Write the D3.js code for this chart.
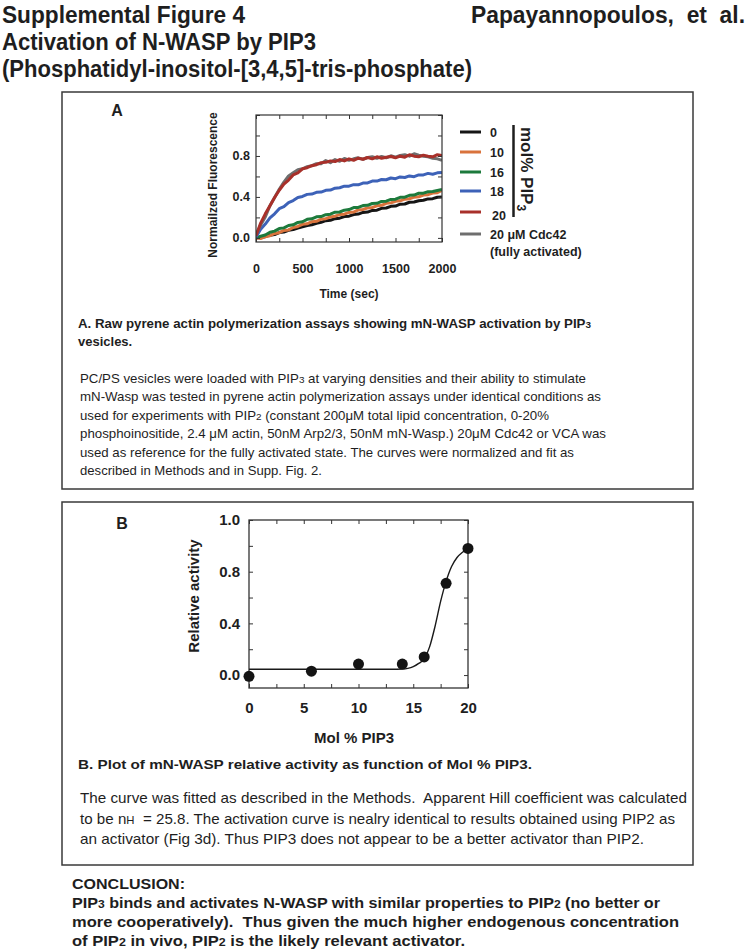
<!DOCTYPE html>
<html><head><meta charset="utf-8">
<script src="https://cdn.jsdelivr.net/npm/d3@7"></script>
<style>
body{margin:0;background:#fff}
svg{display:block}
text{font-family:"Liberation Sans",Arial,Helvetica,sans-serif;fill:#1e1e1e;white-space:pre}
</style>
</head><body>
<svg id="c" width="750" height="949"></svg>
<script>
// ---------- DATA ----------
// Panel A: pyrene actin polymerization traces (normalized fluorescence vs time)
const times = [0,50,100,150,200,250,300,350,400,450,500,550,600,650,700,750,800,850,900,950,1000,
  1050,1100,1150,1200,1250,1300,1350,1400,1450,1500,1550,1600,1650,1700,1750,1800,1850,1900,1950,2000];
const seriesNames = ["0","10","16","18","20","20 \u03BCM Cdc42"];
const pip0  = [0.00,0.006,0.012,0.027,0.033,0.052,0.058,0.074,0.082,0.097,0.108,0.121,0.128,0.143,0.152,0.168,0.172,0.188,0.193,0.208,0.212,0.228,0.233,0.249,0.252,0.268,0.271,0.289,0.292,0.308,0.311,0.329,0.331,0.348,0.351,0.362,0.368,0.381,0.383,0.397,0.400];
const pip10 = [0.00,-0.006,0.012,0.021,0.043,0.051,0.073,0.078,0.102,0.112,0.133,0.138,0.158,0.162,0.183,0.188,0.204,0.212,0.228,0.232,0.249,0.252,0.273,0.277,0.293,0.297,0.313,0.318,0.338,0.342,0.358,0.362,0.378,0.382,0.398,0.402,0.418,0.422,0.438,0.442,0.465];
const pip16 = [0.00,0.016,0.028,0.055,0.066,0.091,0.098,0.121,0.128,0.151,0.158,0.181,0.186,0.206,0.208,0.227,0.232,0.251,0.253,0.271,0.277,0.296,0.298,0.316,0.318,0.336,0.338,0.356,0.359,0.376,0.378,0.396,0.398,0.416,0.418,0.436,0.437,0.451,0.453,0.463,0.472];
const pip18 = [0.01,0.085,0.135,0.195,0.235,0.285,0.305,0.345,0.365,0.395,0.405,0.425,0.428,0.445,0.447,0.465,0.467,0.485,0.490,0.505,0.505,0.520,0.518,0.535,0.537,0.555,0.555,0.570,0.568,0.585,0.578,0.595,0.590,0.605,0.598,0.615,0.615,0.630,0.622,0.635,0.638];
const pip20 = [0.02,0.145,0.235,0.315,0.395,0.465,0.525,0.565,0.615,0.635,0.675,0.685,0.705,0.715,0.735,0.738,0.752,0.745,0.765,0.752,0.772,0.758,0.778,0.768,0.785,0.772,0.792,0.778,0.788,0.795,0.782,0.798,0.788,0.812,0.798,0.792,0.808,0.798,0.792,0.812,0.805];
const cdc42 = [0.03,0.125,0.205,0.315,0.395,0.475,0.545,0.605,0.635,0.665,0.675,0.695,0.705,0.725,0.725,0.755,0.735,0.765,0.748,0.775,0.758,0.772,0.782,0.768,0.785,0.792,0.778,0.795,0.782,0.802,0.788,0.805,0.812,0.798,0.822,0.808,0.798,0.792,0.778,0.772,0.758];
const seriesColors = ["#151515","#d9733c","#1d7a3c","#3d62b8","#a8302a","#6e6e6e"];
const aYTicks = [0, 0.4, 0.8];
const aXTicks = [0, 500, 1000, 1500, 2000];

// Panel B: relative activity vs mol % PIP3
const molPct   = [0, 5.7, 10, 14, 16, 18, 20];
const activity = [-0.01, 0.03, 0.085, 0.085, 0.14, 0.71, 0.98];
const fitX = [0, 13, 14, 14.5, 15, 15.5, 16, 16.5, 17, 17.5, 18, 18.5, 19, 19.5, 20];
const fitY = [0.045, 0.045, 0.047, 0.052, 0.065, 0.09, 0.125, 0.22, 0.38, 0.57, 0.725, 0.84, 0.91, 0.95, 0.98];
const bYTickVals = [0, 0.4, 0.8, 1.2];
const bYTickLabels = ["0.0", "0.4", "0.8", "1.0"];
const bXTicks = [0, 5, 10, 15, 20];

// ---------- DRAWING ----------
const svg = d3.select("#c");

function rich(x, y, parts, o = {}) {
  const size = o.size || 13;
  const t = svg.append("text").attr("x", x).attr("y", y)
    .attr("font-size", size).attr("font-weight", o.bold ? "bold" : "normal");
  if (o.family) t.style("font-family", o.family);
  if (o.anchor) t.attr("text-anchor", o.anchor);
  if (o.len) t.attr("textLength", o.len).attr("lengthAdjust", "spacingAndGlyphs");
  (typeof parts === "string" ? [parts] : parts).forEach(p => {
    if (typeof p === "string") t.append("tspan").text(p);
    else t.append("tspan").text(p.t).attr("font-size", size * (p.k || 0.75));
  });
  return t;
}

// Titles
const narrow = '"Liberation Sans Narrow","Arial Narrow","Liberation Sans",Arial,sans-serif';
rich(2, 23, "Supplemental Figure 4", {size: 23, bold: true, family: narrow, len: 243});
rich(2, 50, "Activation of N-WASP by PIP3", {size: 23, bold: true, family: narrow, len: 314});
rich(2, 77, "(Phosphatidyl-inositol-[3,4,5]-tris-phosphate)", {size: 23, bold: true, family: narrow, len: 470});
rich(471, 23, "Papayannopoulos,  et  al.", {size: 23, bold: true, family: narrow, len: 274});

// Boxes
svg.append("rect").attr("x", 62).attr("y", 92).attr("width", 631).attr("height", 397)
  .attr("fill", "none").attr("stroke", "#3a3a3a").attr("stroke-width", 1.5);
svg.append("rect").attr("x", 62).attr("y", 502).attr("width", 631).attr("height", 363)
  .attr("fill", "none").attr("stroke", "#3a3a3a").attr("stroke-width", 1.5);

rich(117, 116, "A", {size: 16, bold: true, anchor: "middle"});
rich(122, 529, "B", {size: 16, bold: true, anchor: "middle"});

// ----- Panel A chart -----
const A = {l: 256, r: 442, t: 115, b: 242};
const xA = d3.scaleLinear().domain([0, 2000]).range([A.l, A.r]);
const yA = d3.scaleLinear().domain([-0.04, 1.2]).range([A.b, A.t]);
const gA = svg.append("g");
svg.append("clipPath").attr("id", "clipA").append("rect")
  .attr("x", A.l).attr("y", A.t).attr("width", A.r - A.l).attr("height", A.b - A.t);

const allSeries = [pip0, pip10, pip16, pip18, cdc42, pip20];
const orderColors = [seriesColors[0], seriesColors[1], seriesColors[2], seriesColors[3], seriesColors[5], seriesColors[4]];
const lineA = d3.line().x((d, i) => xA(times[i])).y(d => yA(d));
const linesG = gA.append("g").attr("clip-path", "url(#clipA)");
allSeries.forEach((s, k) => {
  linesG.append("path").datum(s).attr("d", lineA).attr("fill", "none")
    .attr("stroke", orderColors[k]).attr("stroke-width", 3).attr("stroke-linejoin", "round");
});

// axes (inward ticks on all sides)
const tickFmt = d3.format(".1f");
gA.append("g").attr("transform", `translate(${A.l},0)`)
  .call(d3.axisRight(yA).tickValues(d3.range(0, 1.21, 0.2)).tickSize(4).tickFormat(""));
gA.append("g").attr("transform", `translate(${A.r},0)`)
  .call(d3.axisLeft(yA).tickValues(d3.range(0, 1.21, 0.2)).tickSize(4).tickFormat(""));
gA.append("g").attr("transform", `translate(0,${A.b})`)
  .call(d3.axisTop(xA).tickValues(d3.range(0, 2001, 250)).tickSize(4).tickFormat(""));
gA.append("g").attr("transform", `translate(0,${A.t})`)
  .call(d3.axisBottom(xA).tickValues(d3.range(0, 2001, 250)).tickSize(4).tickFormat(""));
gA.selectAll(".domain").remove();
gA.selectAll(".tick line").attr("stroke", "#333").attr("stroke-width", 1);
gA.append("rect").attr("x", A.l).attr("y", A.t).attr("width", A.r - A.l).attr("height", A.b - A.t)
  .attr("fill", "none").attr("stroke", "#333").attr("stroke-width", 1.2);
// tick labels
gA.append("g").attr("transform", `translate(${A.l},0)`)
  .call(d3.axisLeft(yA).tickValues(aYTicks).tickSize(0).tickPadding(6).tickFormat(tickFmt))
  .call(g => g.select(".domain").remove())
  .selectAll("text").attr("font-size", 12.5).attr("font-weight", "bold").style("font-family", '"Liberation Sans",Arial,sans-serif').attr("fill", "#1e1e1e");
gA.append("g").attr("transform", `translate(0,${A.b})`)
  .call(d3.axisBottom(xA).tickValues(aXTicks).tickSize(0).tickPadding(22).tickFormat(d3.format("d")))
  .call(g => g.select(".domain").remove())
  .selectAll("text").attr("font-size", 12.5).attr("font-weight", "bold").style("font-family", '"Liberation Sans",Arial,sans-serif').attr("fill", "#1e1e1e");
rich(349, 298, "Time (sec)", {size: 12, bold: true, anchor: "middle"});
rich(0, 0, "Normailzed Fluorescence", {size: 12, bold: true, anchor: "middle"})
  .attr("transform", "translate(217,185) rotate(-90)");

// legend
const legY = [132, 152, 172, 191, 212, 234];
const legColors = seriesColors;
legY.forEach((y, i) => {
  svg.append("line").attr("x1", 460).attr("x2", 481).attr("y1", y).attr("y2", y)
    .attr("stroke", legColors[i]).attr("stroke-width", 3);
  rich(i === 4 ? 492 : 490, (i === 4 ? y + 3 : y) + 4.5, seriesNames[i], {size: 12.5, bold: true});
});
rich(490, 255.5, "(fully activated)", {size: 12.5, bold: true});
svg.append("line").attr("x1", 513.5).attr("x2", 513.5).attr("y1", 125).attr("y2", 217)
  .attr("stroke", "#1e1e1e").attr("stroke-width", 2.5);
{
  const t = svg.append("text").attr("font-size", 17).attr("font-weight", "bold")
    .attr("transform", "translate(521,127) rotate(90)");
  t.append("tspan").text("mol% PIP");
  t.append("tspan").text("3").attr("font-size", 12).attr("dy", 4);
}

// Captions A
rich(78, 328, ["A. Raw pyrene actin polymerization assays showing mN-WASP activation by PIP", {t: "3"}],
  {size: 13, bold: true, len: 513});
rich(78, 346, "vesicles.", {size: 13, bold: true});
const bodyA = [
  [["PC/PS vesicles were loaded with PIP", {t: "3"}, " at varying densities and their ability to stimulate"], 506],
  [["mN-Wasp was tested in pyrene actin polymerization assays under identical conditions as"], 521],
  [["used for experiments with PIP", {t: "2"}, " (constant 200\u03BCM total lipid concentration, 0-20%"], 469],
  [["phosphoinositide, 2.4 \u03BCM actin, 50nM Arp2/3, 50nM mN-Wasp.) 20\u03BCM Cdc42 or VCA was"], 526],
  [["used as reference for the fully activated state. The curves were normalized and fit as"], 494],
  [["described in Methods and in Supp. Fig. 2."], 242]
];
bodyA.forEach((l, i) => rich(80, 383 + i * 18.4, l[0], {size: 13.3, len: l[1]}));

// ----- Panel B chart -----
const B = {l: 249, r: 468, t: 520, b: 688};
const xB = d3.scaleLinear().domain([0, 20]).range([B.l, B.r]);
const yB = d3.scaleLinear().domain([-0.1, 1.2]).range([B.b, B.t]);
const gB = svg.append("g");
gB.append("g").attr("transform", `translate(${B.l},0)`)
  .call(d3.axisRight(yB).tickValues(d3.range(0, 1.21, 0.2)).tickSize(4).tickFormat(""));
gB.append("g").attr("transform", `translate(${B.r},0)`)
  .call(d3.axisLeft(yB).tickValues(d3.range(0, 1.21, 0.2)).tickSize(4).tickFormat(""));
gB.append("g").attr("transform", `translate(0,${B.b})`)
  .call(d3.axisTop(xB).tickValues(d3.range(0, 20.1, 2.5)).tickSize(4).tickFormat(""));
gB.append("g").attr("transform", `translate(0,${B.t})`)
  .call(d3.axisBottom(xB).tickValues(d3.range(0, 20.1, 2.5)).tickSize(4).tickFormat(""));
gB.selectAll(".domain").remove();
gB.selectAll(".tick line").attr("stroke", "#333").attr("stroke-width", 1);
gB.append("rect").attr("x", B.l).attr("y", B.t).attr("width", B.r - B.l).attr("height", B.b - B.t)
  .attr("fill", "none").attr("stroke", "#333").attr("stroke-width", 1.3);
gB.append("g").attr("transform", `translate(${B.l},0)`)
  .call(d3.axisLeft(yB).tickValues(bYTickVals).tickSize(0).tickPadding(9)
    .tickFormat((d, i) => bYTickLabels[i]))
  .call(g => g.select(".domain").remove())
  .selectAll("text").attr("font-size", 15).attr("font-weight", "bold").style("font-family", '"Liberation Sans",Arial,sans-serif').attr("fill", "#1e1e1e");
gB.append("g").attr("transform", `translate(0,${B.b})`)
  .call(d3.axisBottom(xB).tickValues(bXTicks).tickSize(0).tickPadding(14).tickFormat(d3.format("d")))
  .call(g => g.select(".domain").remove())
  .selectAll("text").attr("font-size", 15).attr("font-weight", "bold").style("font-family", '"Liberation Sans",Arial,sans-serif').attr("fill", "#1e1e1e");
rich(354, 743, "Mol % PIP3", {size: 15, bold: true, anchor: "middle"});
rich(0, 0, "Relative activity", {size: 15, bold: true, anchor: "middle"})
  .attr("transform", "translate(199,596) rotate(-90)");

gB.append("path").datum(fitX.map((x, i) => [x, fitY[i]]))
  .attr("d", d3.line().x(d => xB(d[0])).y(d => yB(d[1])).curve(d3.curveMonotoneX))
  .attr("fill", "none").attr("stroke", "#1a1a1a").attr("stroke-width", 1.4);
gB.selectAll("circle").data(molPct).enter().append("circle")
  .attr("cx", d => xB(d)).attr("cy", (d, i) => yB(activity[i])).attr("r", 5.5)
  .attr("fill", "#141414");

// Captions B
rich(78, 769, "B. Plot of mN-WASP relative activity as function of Mol % PIP3.", {size: 13.5, bold: true, len: 454});
const bodyB = [
  [["The curve was fitted as described in the Methods.  Apparent Hill coefficient was calculated"], 607],
  [["to be n", {t: "H"}, "  = 25.8. The activation curve is nealry identical to results obtained using PIP2 as"], 595],
  [["an activator (Fig 3d). Thus PIP3 does not appear to be a better activator than PIP2."], 564]
];
bodyB.forEach((l, i) => rich(80, 803 + i * 20.5, l[0], {size: 14.3, len: l[1]}));

// Conclusion
rich(72, 889, "CONCLUSION:", {size: 15, bold: true, len: 113});
const concl = [
  [["PIP", {t: "3"}, " binds and activates N-WASP with similar properties to PIP", {t: "2"}, " (no better or"], 588],
  [["more cooperatively).  Thus given the much higher endogenous concentration"], 607],
  [["of PIP", {t: "2"}, " in vivo, PIP", {t: "2"}, " is the likely relevant activator."], 393]
];
concl.forEach((l, i) => rich(72, 908 + i * 19, l[0], {size: 15, bold: true, len: l[1]}));
</script>
</body></html>
